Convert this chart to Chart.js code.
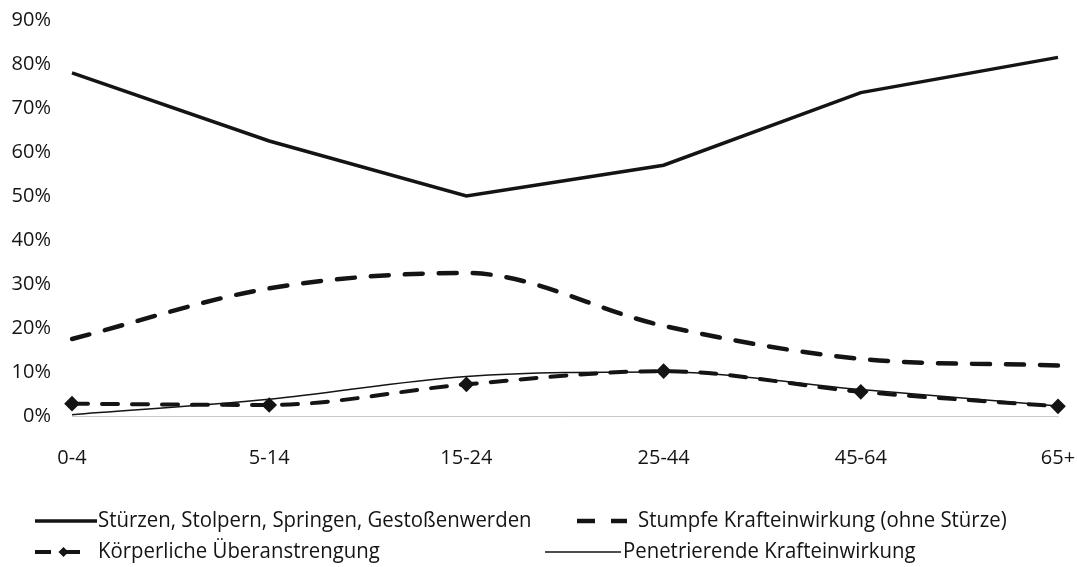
<!DOCTYPE html>
<html>
<head>
<meta charset="utf-8">
<script src="https://cdn.jsdelivr.net/npm/chart.js@4"></script>
<style>
  html, body { margin: 0; padding: 0; background: #fff; }
  #wrap { width: 1077px; height: 567px; position: relative; }
</style>
</head>
<body>
<div id="wrap"><canvas id="c" width="1077" height="567"></canvas></div>
<script>
// Age groups on the horizontal axis
const ageGroups = ['0-4', '5-14', '15-24', '25-44', '45-64', '65+'];

// Share of injuries per cause (%)
const fallsTrips   = [78, 62.5, 50, 57, 73.5, 81.5];
const bluntForce   = [17.5, 29, 32.5, 20.5, 13, 11.5];
const overexertion = [2.8, 2.5, 7.2, 10.2, 5.5, 2.2];
const penetrating  = [0.3, 3.8, 9, 10, 6, 2.3];

// Y axis range / step (%)
const yMin = 0, yMax = 90, yStep = 10;

const seriesLabels = [
  'Stürzen, Stolpern, Springen, Gestoßenwerden',
  'Stumpfe Krafteinwirkung (ohne Stürze)',
  'Körperliche Überanstrengung',
  'Penetrierende Krafteinwirkung'
];

const INK = '#141414';
const FONT = '"Open Sans", "DejaVu Sans", sans-serif';

// Legend below the plot, two columns, line samples drawn with each dataset's style
const bottomLegend = {
  id: 'bottomLegend',
  afterDraw(chart) {
    const ctx = chart.ctx;
    const slots = [
      { x0: 35,  x1: 97,  tx: 98,  y: 521 },
      { x0: 577, x1: 627, tx: 638, y: 521 },
      { x0: 35,  x1: 80,  tx: 98,  y: 552 },
      { x0: 545, x1: 621, tx: 623, y: 552 }
    ];
    chart.data.datasets.forEach((ds, i) => {
      const s = slots[i];
      ctx.save();
      ctx.strokeStyle = ds.borderColor;
      ctx.lineWidth = ds.borderWidth;
      ctx.setLineDash(ds.borderDash || []);
      ctx.beginPath();
      ctx.moveTo(s.x0, s.y);
      ctx.lineTo(s.x1, s.y);
      ctx.stroke();
      ctx.setLineDash([]);
      if (ds.pointRadius > 0) {
        const cx = (s.x0 + s.x1) / 2 + 6;
        const r = ds.pointRadius;
        ctx.fillStyle = ds.pointBackgroundColor;
        ctx.beginPath();
        ctx.moveTo(cx - r, s.y);
        ctx.lineTo(cx, s.y - r);
        ctx.lineTo(cx + r, s.y);
        ctx.lineTo(cx, s.y + r);
        ctx.closePath();
        ctx.fill();
        ctx.fillRect(cx, s.y - 1.5, 9, 3);
      }
      ctx.fillStyle = INK;
      ctx.font = '21px ' + FONT;
      ctx.textBaseline = 'middle';
      ctx.textAlign = 'left';
      ctx.translate(s.tx, s.y);
      ctx.scale(0.97, 1);
      ctx.fillText(ds.label, 0, 0);
      ctx.restore();
    });
  }
};

new Chart(document.getElementById('c'), {
  type: 'line',
  data: {
    labels: ageGroups,
    datasets: [
      {
        label: seriesLabels[0],
        data: fallsTrips,
        borderColor: INK,
        borderWidth: 3.5,
        pointRadius: 0,
        tension: 0
      },
      {
        label: seriesLabels[1],
        data: bluntForce,
        borderColor: INK,
        borderWidth: 4.5,
        borderDash: [18, 16],
        borderCapStyle: 'round',
        pointRadius: 0,
        cubicInterpolationMode: 'monotone'
      },
      {
        label: seriesLabels[2],
        data: overexertion,
        borderColor: INK,
        borderWidth: 4,
        borderDash: [16, 14],
        borderCapStyle: 'round',
        pointStyle: 'rectRot',
        pointRadius: 5,
        pointBackgroundColor: INK,
        pointBorderColor: INK,
        cubicInterpolationMode: 'monotone'
      },
      {
        label: seriesLabels[3],
        data: penetrating,
        borderColor: INK,
        borderWidth: 1.5,
        pointRadius: 0,
        cubicInterpolationMode: 'monotone'
      }
    ]
  },
  options: {
    responsive: false,
    animation: false,
    layout: { padding: { left: 0, right: 19, top: 20, bottom: 91 } },
    plugins: {
      legend: { display: false },
      tooltip: { enabled: false }
    },
    scales: {
      x: {
        offset: false,
        grid: { display: false, drawTicks: false },
        border: { display: true, color: '#c8c8c8', width: 1 },
        ticks: {
          color: INK,
          font: { family: FONT, size: 20 },
          padding: 30,
          maxRotation: 0
        },
        afterFit(scale) {
          scale.height = 60;
          scale.paddingLeft = 0;
          scale.paddingRight = 0;
        }
      },
      y: {
        min: yMin,
        max: yMax,
        grid: { display: false, drawTicks: false },
        border: { display: false },
        ticks: {
          stepSize: yStep,
          color: INK,
          font: { family: FONT, size: 20 },
          padding: 21,
          callback: v => v + '%'
        },
        afterFit(scale) {
          scale.width = 72;
          scale.paddingTop = 0;
          scale.paddingBottom = 0;
        }
      }
    }
  },
  plugins: [bottomLegend]
});
</script>
</body>
</html>
